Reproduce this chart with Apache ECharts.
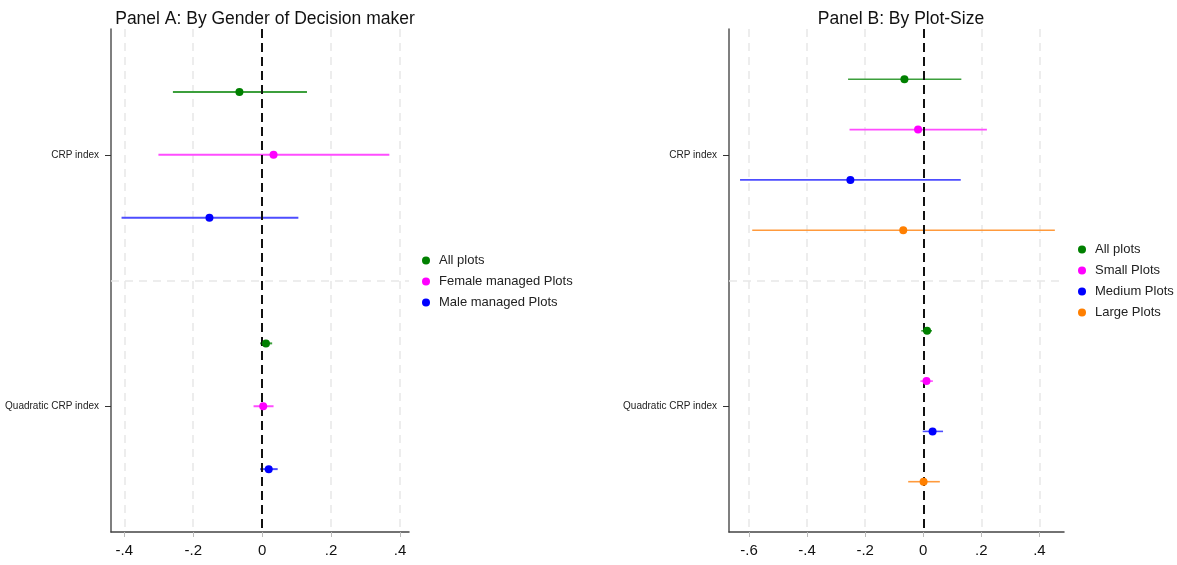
<!DOCTYPE html>
<html>
<head>
<meta charset="utf-8">
<script src="https://cdn.jsdelivr.net/npm/echarts@6/dist/echarts.min.js"></script>
<style>html,body{margin:0;padding:0;background:#fff}#c{width:1177px;height:565px}</style>
</head>
<body>
<div id="c"></div>
<script>
// ---------- data ----------
const coefLabels = ['CRP index', 'Quadratic CRP index'];
const xTicksA = [-0.4, -0.2, 0, 0.2, 0.4];
const xTicksB = [-0.6, -0.4, -0.2, 0, 0.2, 0.4];

// Panel A: By Gender of Decision maker
const A_names = ['All plots', 'Female managed Plots', 'Male managed Plots'];
const A_all_est = [-0.066, 0.011];
const A_all_lo  = [-0.259, -0.006];
const A_all_hi  = [0.130, 0.029];
const A_fem_est = [0.033, 0.003];
const A_fem_lo  = [-0.301, -0.025];
const A_fem_hi  = [0.369, 0.033];
const A_male_est = [-0.153, 0.019];
const A_male_lo  = [-0.408, -0.006];
const A_male_hi  = [0.105, 0.045];

// Panel B: By Plot-Size
const B_names = ['All plots', 'Small Plots', 'Medium Plots', 'Large Plots'];
const B_all_est = [-0.065, 0.013];
const B_all_lo  = [-0.259, -0.007];
const B_all_hi  = [0.131, 0.030];
const B_small_est = [-0.018, 0.011];
const B_small_lo  = [-0.254, -0.010];
const B_small_hi  = [0.219, 0.033];
const B_med_est = [-0.251, 0.032];
const B_med_lo  = [-0.631, -0.002];
const B_med_hi  = [0.129, 0.068];
const B_large_est = [-0.069, 0.001];
const B_large_lo  = [-0.589, -0.052];
const B_large_hi  = [0.453, 0.057];

// ---------- styling ----------
const colors = { green: '#008000', magenta: '#ff00ff', blue: '#0000ff', orange: '#ff7f00' };
const lineColors = { green: '#3c9f3c', magenta: '#ff4dff', blue: '#4d4dff', orange: '#ff9a3c' };
const FONT = 'Liberation Sans, Arial, sans-serif';

const chart = echarts.init(document.getElementById('c'), null, { renderer: 'canvas' });

function fmtTick(v) {
  if (Math.abs(v) < 1e-9) return '0';
  let s = (Math.round(v * 10) / 10).toString();
  return s.replace('0.', '.');
}

function makeAxes(gridIndex, min, max, ticks) {
  const xAxis = {
    type: 'value', gridIndex, min, max,
    axisLine: { show: true, onZero: false, lineStyle: { color: '#444', width: 1.5 } },
    axisTick: { show: true, length: 5, customValues: ticks, lineStyle: { color: '#bbb', width: 1 } },
    axisLabel: { customValues: ticks, formatter: fmtTick, color: '#111', fontSize: 15, fontFamily: FONT, margin: 11 },
    splitLine: { show: true, lineStyle: { color: '#e8e8e8', width: 1.5, type: [8, 6] } }
  };
  const yAxis = {
    type: 'value', gridIndex, min: 0.5, max: 2.5, inverse: true,
    axisLine: { show: true, onZero: false, lineStyle: { color: '#555', width: 1.5 } },
    axisTick: { show: true, length: 6, customValues: [1, 2], lineStyle: { color: '#333', width: 1 } },
    axisLabel: { customValues: [1, 2], formatter: v => coefLabels[Math.round(v) - 1] || '', color: '#222', fontSize: 10, fontFamily: FONT, margin: 12 },
    splitLine: { show: false }
  };
  return { xAxis, yAxis };
}

function ciSeries(name, axisIdx, est, lo, hi, offset, colorKey, lw) {
  const data = est.map((e, i) => [lo[i], hi[i], i + 1 + offset]);
  return {
    name, type: 'custom', xAxisIndex: axisIdx, yAxisIndex: axisIdx, z: 3,
    renderItem: (params, api) => {
      const p1 = api.coord([api.value(0), api.value(2)]);
      const p2 = api.coord([api.value(1), api.value(2)]);
      return { type: 'line', shape: { x1: p1[0], y1: p1[1], x2: p2[0], y2: p2[1] },
               style: { stroke: lineColors[colorKey], lineWidth: lw } };
    },
    encode: { x: [0, 1], y: 2 },
    data, silent: true
  };
}

function ptSeries(name, axisIdx, est, offset, colorKey) {
  return {
    name, type: 'scatter', xAxisIndex: axisIdx, yAxisIndex: axisIdx, z: 5,
    symbol: 'circle', symbolSize: 8,
    itemStyle: { color: colors[colorKey], opacity: 1 },
    data: est.map((e, i) => [e, i + 1 + offset]), silent: true
  };
}

function refLines(axisIdx) {
  return {
    type: 'scatter', xAxisIndex: axisIdx, yAxisIndex: axisIdx, data: [], z: 4, silent: true,
    markLine: {
      silent: true, symbol: 'none', label: { show: false },
      data: [
        { yAxis: 1.5, lineStyle: { color: '#e8e8e8', width: 1.5, type: [8, 6] } },
        { xAxis: 0, lineStyle: { color: '#111', width: 2, type: [9, 5] } }
      ]
    }
  };
}

const axA = makeAxes(0, -0.4386, 0.426, xTicksA);
const axB = makeAxes(1, -0.669, 0.4845, xTicksB);

const offA = [-0.25, 0, 0.25];
const offB = [-0.3, -0.1, 0.1, 0.3];
const keysA = ['green', 'magenta', 'blue'];
const keysB = ['green', 'magenta', 'blue', 'orange'];
const estA = [A_all_est, A_fem_est, A_male_est], loA = [A_all_lo, A_fem_lo, A_male_lo], hiA = [A_all_hi, A_fem_hi, A_male_hi];
const estB = [B_all_est, B_small_est, B_med_est, B_large_est], loB = [B_all_lo, B_small_lo, B_med_lo, B_large_lo], hiB = [B_all_hi, B_small_hi, B_med_hi, B_large_hi];

const series = [refLines(0), refLines(1)];
A_names.forEach((n, k) => {
  series.push(ptSeries(n, 0, estA[k], offA[k], keysA[k]));
  series.push(ciSeries(n, 0, estA[k], loA[k], hiA[k], offA[k], keysA[k], 2));
});
B_names.forEach((n, k) => {
  series.push(ptSeries(n, 1, estB[k], offB[k], keysB[k]));
  series.push(ciSeries(n, 1, estB[k], loB[k], hiB[k], offB[k], keysB[k], 1.6));
});

function legend(names, keys, left, top) {
  return {
    orient: 'vertical', left, top, itemWidth: 16, itemHeight: 8, itemGap: 8,
    selectedMode: false,
    textStyle: { fontSize: 13, color: '#222', fontFamily: FONT },
    data: names.map((n, k) => ({ name: n, icon: 'circle', itemStyle: { color: colors[keys[k]] } }))
  };
}

const option = {
  backgroundColor: '#fff',
  animation: false,
  title: [
    { text: 'Panel A: By Gender of Decision maker', left: 260, top: 5, textAlign: 'center',
      textStyle: { fontSize: 17.5, fontWeight: 'normal', color: '#111', fontFamily: FONT } },
    { text: 'Panel B: By Plot-Size', left: 896, top: 5, textAlign: 'center',
      textStyle: { fontSize: 17.5, fontWeight: 'normal', color: '#111', fontFamily: FONT } }
  ],
  legend: [legend(A_names, keysA, 417, 249), legend(B_names, keysB, 1073, 238)],
  grid: [
    { left: 111, right: 768, top: 29, bottom: 33 },
    { left: 729, right: 113, top: 29, bottom: 33 }
  ],
  xAxis: [axA.xAxis, axB.xAxis],
  yAxis: [axA.yAxis, axB.yAxis],
  series
};
chart.setOption(option);
</script>
</body>
</html>
